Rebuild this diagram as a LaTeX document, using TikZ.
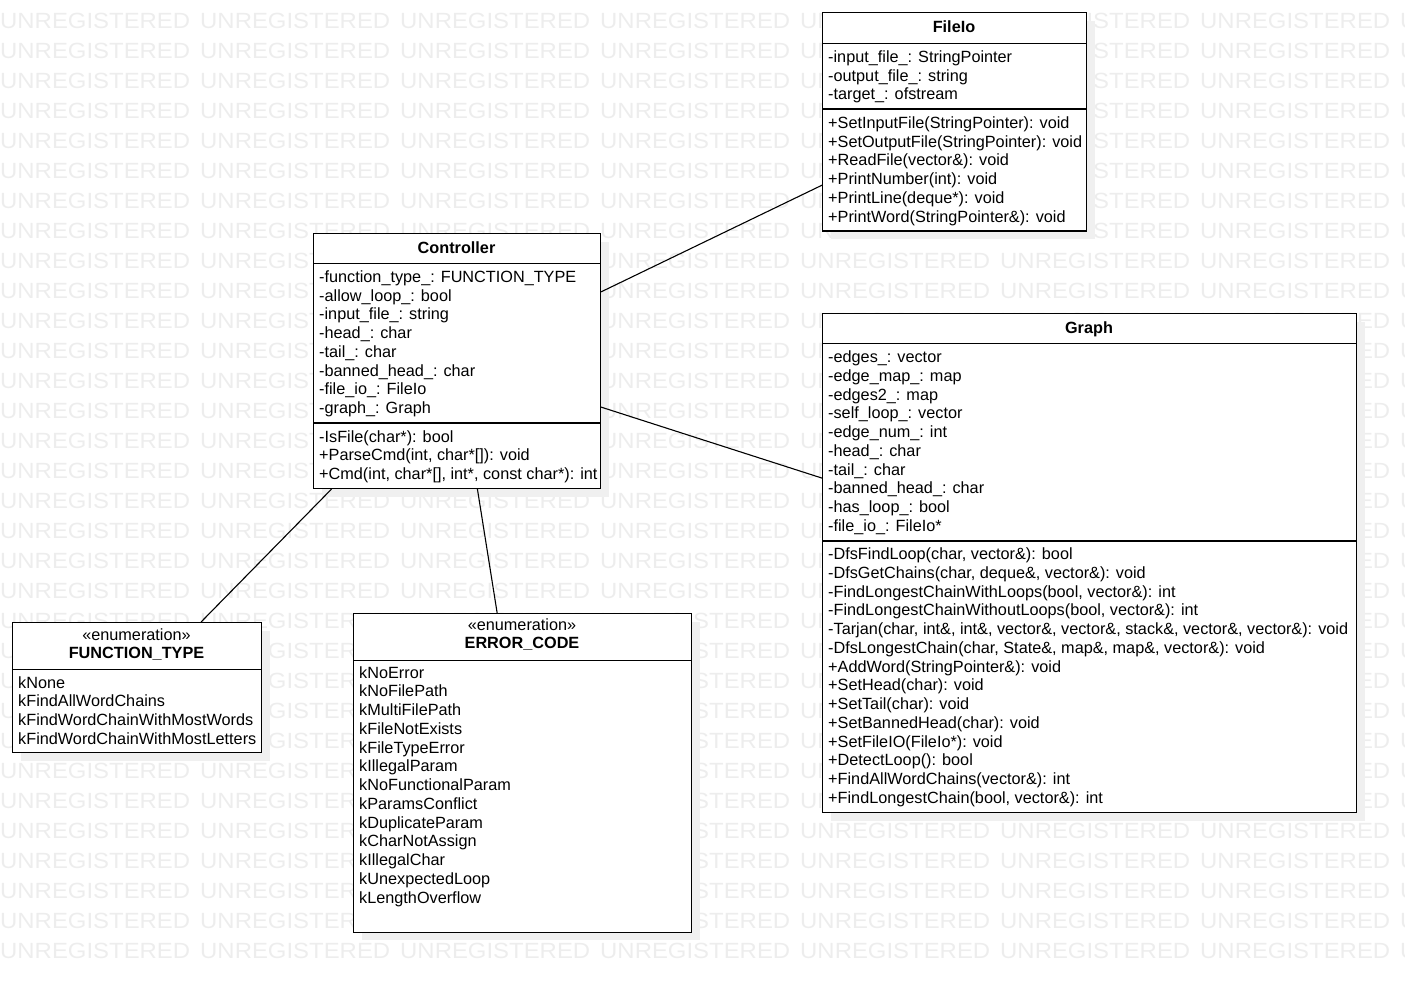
\documentclass[tikz,border=0pt]{standalone}
\usepackage{fontspec}
\setmainfont{Liberation Sans}
\usetikzlibrary{positioning, shadows}

\begin{document}
\begin{tikzpicture}[x=1pt, y=-1pt,
        wmark/.style={anchor=base west, inner sep=0pt, text=black!7, xscale=1.087, font=\fontsize{22}{24}\selectfont},
        classbox/.style={draw, line width=1.1pt, fill=white, inner sep=0pt, anchor=north west,
            drop shadow={shadow xshift=8pt, shadow yshift=-8pt, fill=black!6, opacity=1}},
        member/.style={anchor=base west, inner sep=0pt, font=\fontsize{16.25}{18.75}\selectfont},
        classname/.style={anchor=base, inner sep=0pt, font=\fontsize{16.25}{18.75}\selectfont\bfseries},
        stereotype/.style={anchor=base, inner sep=0pt, font=\fontsize{16.25}{18.75}\selectfont},
        divider/.style={line width=1.1pt},
        link/.style={line width=1.1pt}]

    \useasboundingbox (0, 0) rectangle (1405, 981);

    % watermark
    \foreach \row in {0,...,31}
        \foreach \col in {0,...,7}
            \node[wmark] (wm-\row-\col) at (200*\col, 28.5+30*\row) {UNREGISTERED};

    % FileIo
    \node[classbox, minimum width=264pt, minimum height=218.5pt] (fileio) at (822, 12) {};
    \node[classname] (fileio-name) at (954, 33) {FileIo};
    \draw[divider] (822, 43.5) -- (1086, 43.5);
    \draw[divider] (822, 109) -- (1086, 109);
    \foreach \txt [count=\n from 0] in {-input\_file\_: StringPointer, -output\_file\_: string, -target\_: ofstream}
        \node[member] (fileio-attr-\n) at (828, {62.5+18.75*\n}) {\txt};
    \foreach \txt [count=\n from 0] in {+SetInputFile(StringPointer): void, +SetOutputFile(StringPointer): void,
            +ReadFile(vector\&): void, +PrintNumber(int): void, +PrintLine(deque*): void, +PrintWord(StringPointer\&): void}
        \node[member] (fileio-op-\n) at (828, {128.5+18.75*\n}) {\txt};

    % Controller
    \node[classbox, minimum width=287pt, minimum height=255pt] (ctrl) at (313, 233) {};
    \node[classname] (ctrl-name) at (456.5, 253.5) {Controller};
    \draw[divider] (313, 263.5) -- (600, 263.5);
    \draw[divider] (313, 423) -- (600, 423);
    \foreach \txt [count=\n from 0] in {-function\_type\_: FUNCTION\_TYPE, -allow\_loop\_: bool, -input\_file\_: string,
            -head\_: char, -tail\_: char, -banned\_head\_: char, -file\_io\_: FileIo, -graph\_: Graph}
        \node[member] (ctrl-attr-\n) at (319, {282.5+18.75*\n}) {\txt};
    \foreach \txt [count=\n from 0] in {-IsFile(char*): bool, {+ParseCmd(int, char*[]): void},
            {+Cmd(int, char*[], int*, const char*): int}}
        \node[member] (ctrl-op-\n) at (319, {442+18.75*\n}) {\txt};

    % Graph
    \node[classbox, minimum width=534pt, minimum height=499pt] (graph) at (822, 313) {};
    \node[classname] (graph-name) at (1089, 333.5) {Graph};
    \draw[divider] (822, 343.5) -- (1356, 343.5);
    \draw[divider] (822, 541) -- (1356, 541);
    \foreach \txt [count=\n from 0] in {-edges\_: vector, -edge\_map\_: map, -edges2\_: map, -self\_loop\_: vector,
            -edge\_num\_: int, -head\_: char, -tail\_: char, -banned\_head\_: char, -has\_loop\_: bool, -file\_io\_: FileIo*}
        \node[member] (graph-attr-\n) at (828, {362.5+18.75*\n}) {\txt};
    \foreach \txt [count=\n from 0] in {{-DfsFindLoop(char, vector\&): bool},
            {-DfsGetChains(char, deque\&, vector\&): void},
            {-FindLongestChainWithLoops(bool, vector\&): int},
            {-FindLongestChainWithoutLoops(bool, vector\&): int},
            {-Tarjan(char, int\&, int\&, vector\&, vector\&, stack\&, vector\&, vector\&): void},
            {-DfsLongestChain(char, State\&, map\&, map\&, vector\&): void},
            +AddWord(StringPointer\&): void, +SetHead(char): void, +SetTail(char): void,
            +SetBannedHead(char): void, +SetFileIO(FileIo*): void, +DetectLoop(): bool,
            +FindAllWordChains(vector\&): int, {+FindLongestChain(bool, vector\&): int}}
        \node[member] (graph-op-\n) at (828, {559.5+18.75*\n}) {\txt};

    % FUNCTION_TYPE
    \node[classbox, minimum width=249pt, minimum height=130pt] (ftype) at (12, 622) {};
    \node[stereotype] (ftype-st) at (136.5, 640.5) {«enumeration»};
    \node[classname] (ftype-name) at (136.5, 658.5) {FUNCTION\_TYPE};
    \draw[divider] (12, 669.5) -- (261, 669.5);
    \foreach \txt [count=\n from 0] in {kNone, kFindAllWordChains, kFindWordChainWithMostWords, kFindWordChainWithMostLetters}
        \node[member] (ftype-lit-\n) at (18, {688+18.75*\n}) {\txt};

    % ERROR_CODE
    \node[classbox, minimum width=338pt, minimum height=318.5pt] (ecode) at (353, 613) {};
    \node[stereotype] (ecode-st) at (522, 630) {«enumeration»};
    \node[classname] (ecode-name) at (522, 648.5) {ERROR\_CODE};
    \draw[divider] (353, 660.5) -- (691, 660.5);
    \foreach \txt [count=\n from 0] in {kNoError, kNoFilePath, kMultiFilePath, kFileNotExists, kFileTypeError,
            kIllegalParam, kNoFunctionalParam, kParamsConflict, kDuplicateParam, kCharNotAssign,
            kIllegalChar, kUnexpectedLoop, kLengthOverflow}
        \node[member] (ecode-lit-\n) at (359, {678+18.75*\n}) {\txt};

    % associations
    \draw[link] (ctrl) -- (fileio);
    \draw[link] (ctrl) -- (graph);
    \draw[link] (ctrl) -- (ftype);
    \draw[link] (ctrl) -- (ecode);
\end{tikzpicture}
\end{document}
